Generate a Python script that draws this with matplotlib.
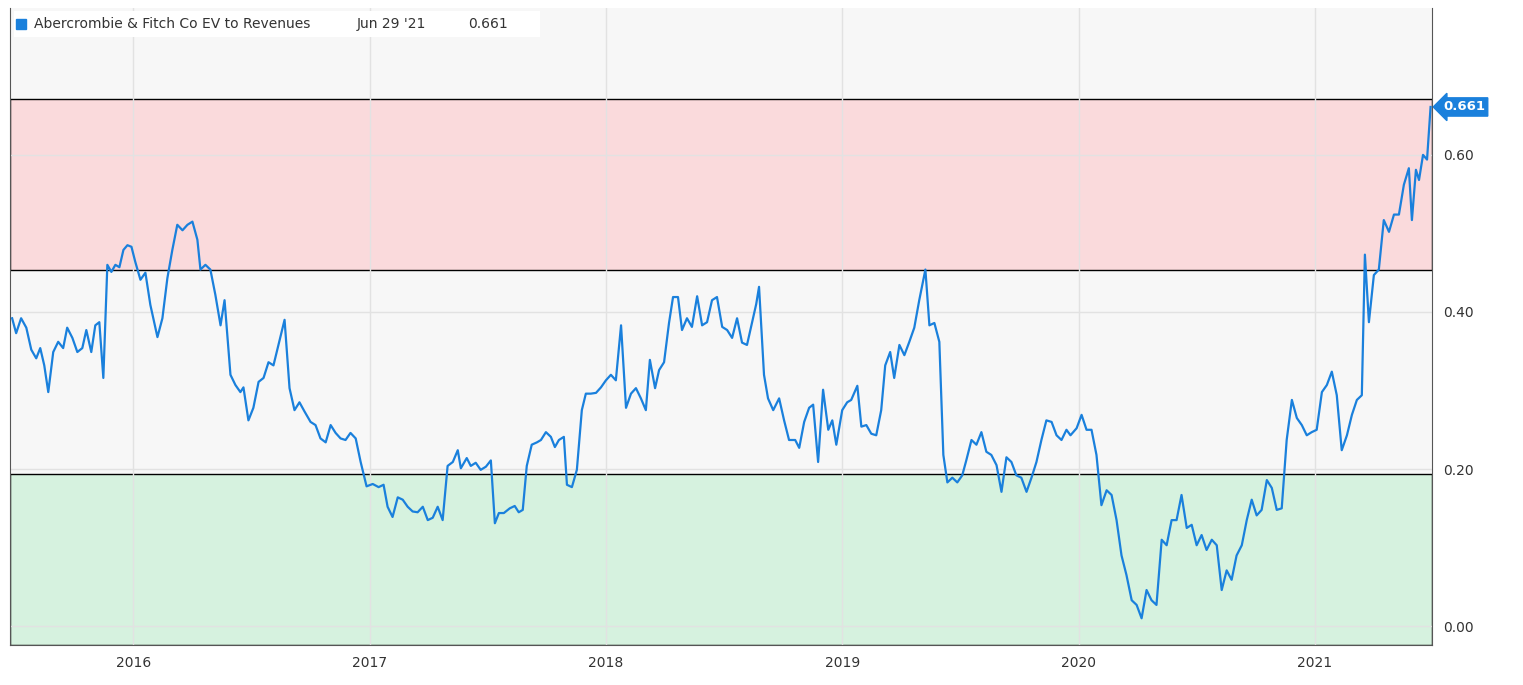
import matplotlib.pyplot as plt
from matplotlib.patches import Rectangle

YEARS = [
    2015.487, 2015.504, 2015.525, 2015.547, 2015.568, 2015.589, 2015.606, 2015.623, 2015.640, 2015.661,
    2015.682, 2015.703, 2015.720, 2015.742, 2015.763, 2015.784, 2015.801, 2015.822, 2015.839, 2015.856,
    2015.873, 2015.890, 2015.907, 2015.924, 2015.941, 2015.958, 2015.975, 2015.992, 2016.008, 2016.030,
    2016.051, 2016.072, 2016.102, 2016.123, 2016.144, 2016.165, 2016.186, 2016.208, 2016.229, 2016.250,
    2016.271, 2016.284, 2016.305, 2016.326, 2016.347, 2016.369, 2016.386, 2016.411, 2016.432, 2016.453,
    2016.466, 2016.487, 2016.508, 2016.530, 2016.551, 2016.572, 2016.593, 2016.614, 2016.640, 2016.661,
    2016.682, 2016.703, 2016.725, 2016.750, 2016.771, 2016.792, 2016.814, 2016.835, 2016.856, 2016.877,
    2016.898, 2016.919, 2016.941, 2016.962, 2016.987, 2017.013, 2017.038, 2017.059, 2017.076, 2017.097,
    2017.119, 2017.140, 2017.161, 2017.182, 2017.203, 2017.225, 2017.246, 2017.267, 2017.288, 2017.309,
    2017.330, 2017.352, 2017.373, 2017.386, 2017.411, 2017.428, 2017.449, 2017.470, 2017.492, 2017.513,
    2017.530, 2017.547, 2017.568, 2017.593, 2017.614, 2017.631, 2017.648, 2017.665, 2017.686, 2017.708,
    2017.725, 2017.746, 2017.767, 2017.784, 2017.801, 2017.822, 2017.835, 2017.856, 2017.877, 2017.898,
    2017.915, 2017.936, 2017.958, 2017.979, 2018.000, 2018.021, 2018.042, 2018.064, 2018.085, 2018.106,
    2018.127, 2018.148, 2018.169, 2018.186, 2018.208, 2018.225, 2018.246, 2018.267, 2018.284, 2018.305,
    2018.322, 2018.343, 2018.364, 2018.386, 2018.407, 2018.428, 2018.449, 2018.470, 2018.492, 2018.513,
    2018.534, 2018.555, 2018.576, 2018.597, 2018.619, 2018.636, 2018.648, 2018.669, 2018.686, 2018.708,
    2018.733, 2018.754, 2018.775, 2018.801, 2018.818, 2018.839, 2018.860, 2018.877, 2018.898, 2018.919,
    2018.941, 2018.958, 2018.975, 2019.000, 2019.021, 2019.038, 2019.064, 2019.081, 2019.102, 2019.123,
    2019.144, 2019.165, 2019.182, 2019.203, 2019.220, 2019.242, 2019.263, 2019.284, 2019.305, 2019.326,
    2019.352, 2019.369, 2019.390, 2019.411, 2019.428, 2019.445, 2019.466, 2019.487, 2019.508, 2019.525,
    2019.547, 2019.568, 2019.589, 2019.610, 2019.631, 2019.653, 2019.674, 2019.695, 2019.716, 2019.737,
    2019.758, 2019.780, 2019.801, 2019.822, 2019.843, 2019.864, 2019.886, 2019.907, 2019.928, 2019.949,
    2019.966, 2019.992, 2020.013, 2020.034, 2020.055, 2020.076, 2020.097, 2020.119, 2020.140, 2020.161,
    2020.182, 2020.203, 2020.225, 2020.246, 2020.267, 2020.288, 2020.309, 2020.330, 2020.352, 2020.373,
    2020.394, 2020.415, 2020.436, 2020.458, 2020.479, 2020.500, 2020.521, 2020.542, 2020.564, 2020.585,
    2020.606, 2020.627, 2020.648, 2020.669, 2020.691, 2020.712, 2020.733, 2020.754, 2020.775, 2020.797,
    2020.818, 2020.839, 2020.860, 2020.881, 2020.903, 2020.924, 2020.945, 2020.966, 2020.987, 2021.008,
    2021.030, 2021.051, 2021.072, 2021.093, 2021.114, 2021.136, 2021.157, 2021.178, 2021.199, 2021.212,
    2021.229, 2021.250, 2021.271, 2021.292, 2021.314, 2021.335, 2021.356, 2021.377, 2021.398, 2021.411,
    2021.428, 2021.441, 2021.458, 2021.475, 2021.490,
]
EV_REV = [
    0.392, 0.373, 0.392, 0.380, 0.352, 0.341, 0.354, 0.332, 0.298, 0.349,
    0.362, 0.354, 0.380, 0.367, 0.349, 0.354, 0.377, 0.349, 0.383, 0.387,
    0.316, 0.460, 0.451, 0.460, 0.457, 0.479, 0.485, 0.483, 0.464, 0.441,
    0.450, 0.409, 0.368, 0.392, 0.443, 0.479, 0.511, 0.504, 0.511, 0.515,
    0.492, 0.454, 0.460, 0.454, 0.422, 0.383, 0.415, 0.320, 0.307, 0.298,
    0.304, 0.262, 0.278, 0.311, 0.316, 0.336, 0.332, 0.358, 0.390, 0.303,
    0.275, 0.285, 0.273, 0.260, 0.256, 0.239, 0.234, 0.256, 0.246, 0.239,
    0.237, 0.246, 0.239, 0.209, 0.178, 0.181, 0.177, 0.180, 0.152, 0.139,
    0.164, 0.161, 0.152, 0.146, 0.145, 0.152, 0.135, 0.138, 0.152, 0.135,
    0.204, 0.209, 0.224, 0.201, 0.214, 0.204, 0.208, 0.199, 0.203, 0.211,
    0.131, 0.144, 0.144, 0.150, 0.153, 0.145, 0.148, 0.204, 0.231, 0.234,
    0.237, 0.247, 0.241, 0.228, 0.237, 0.241, 0.180, 0.177, 0.199, 0.275,
    0.296, 0.296, 0.297, 0.304, 0.313, 0.320, 0.313, 0.383, 0.278, 0.296,
    0.303, 0.290, 0.275, 0.339, 0.303, 0.326, 0.336, 0.386, 0.419, 0.419,
    0.377, 0.392, 0.381, 0.420, 0.383, 0.387, 0.415, 0.419, 0.381, 0.377,
    0.367, 0.392, 0.361, 0.358, 0.387, 0.410, 0.432, 0.320, 0.290, 0.275,
    0.290, 0.262, 0.237, 0.237, 0.227, 0.260, 0.278, 0.282, 0.209, 0.301,
    0.250, 0.262, 0.231, 0.275, 0.285, 0.288, 0.306, 0.254, 0.256, 0.245,
    0.243, 0.275, 0.332, 0.349, 0.316, 0.358, 0.345, 0.362, 0.380, 0.415,
    0.454, 0.383, 0.386, 0.362, 0.218, 0.183, 0.189, 0.183, 0.192, 0.211,
    0.237, 0.231, 0.247, 0.222, 0.218, 0.205, 0.171, 0.215, 0.209, 0.192,
    0.189, 0.171, 0.189, 0.209, 0.237, 0.262, 0.260, 0.243, 0.237, 0.250,
    0.243, 0.252, 0.269, 0.250, 0.250, 0.218, 0.154, 0.173, 0.167, 0.135,
    0.090, 0.065, 0.033, 0.027, 0.010, 0.046, 0.033, 0.027, 0.110, 0.103,
    0.135, 0.135, 0.167, 0.125, 0.129, 0.103, 0.116, 0.097, 0.110, 0.103,
    0.046, 0.071, 0.059, 0.090, 0.103, 0.135, 0.161, 0.141, 0.148, 0.186,
    0.176, 0.148, 0.150, 0.237, 0.288, 0.265, 0.256, 0.243, 0.247, 0.250,
    0.298, 0.307, 0.324, 0.294, 0.224, 0.243, 0.269, 0.288, 0.294, 0.473,
    0.387, 0.447, 0.454, 0.517, 0.502, 0.524, 0.524, 0.562, 0.583, 0.517,
    0.581, 0.568, 0.600, 0.594, 0.661,
]
YEAR_TICKS = [2016, 2017, 2018, 2019, 2020, 2021]
Y_TICKS = [0.0, 0.2, 0.4, 0.6]
HIGH_BAND = (0.4535, 0.671)
LOW_BAND = (-0.024, 0.194)
LAST_LABEL = "Jun 29 '21"

LINE = "#1a80dc"

fig = plt.figure(figsize=(15.23, 6.85), dpi=100)
ax = fig.add_axes([10 / 1523, 40 / 685, 1422 / 1523, 637 / 685])
ax.set_facecolor("#f7f7f7")
ax.set_xlim(2015.478, 2021.496)
ax.set_ylim(-0.024, 0.787)

ax.axhspan(*HIGH_BAND, facecolor="#fadadc", edgecolor="black", linewidth=1, zorder=1)
ax.axhspan(*LOW_BAND, facecolor="#d6f2df", edgecolor="black", linewidth=1, zorder=1)

ax.plot(YEARS, EV_REV, color=LINE, linewidth=1.6, zorder=3)

ax.set_xticks(YEAR_TICKS, [str(y) for y in YEAR_TICKS])
ax.set_yticks(Y_TICKS, [f"{v:.2f}" for v in Y_TICKS])
ax.yaxis.tick_right()
ax.tick_params(length=0, labelsize=10, colors="#333333", pad=8)
ax.grid(color="#e2e2e2", linewidth=1, zorder=0)
for s in ax.spines.values():
    s.set_color("#555555")
    s.set_linewidth(0.8)
ax.spines["top"].set_visible(False)

last = EV_REV[-1]
ax.annotate(f"{last:.3f}", xy=(1.0, last), xycoords=("axes fraction", "data"),
            xytext=(8, 0), textcoords="offset points", va="center", ha="left",
            color="white", fontsize=9.5, weight="bold",
            bbox=dict(boxstyle="larrow,pad=0.2", fc=LINE, ec=LINE))

ax.add_patch(Rectangle((0.003, 0.955), 0.37, 0.04, transform=ax.transAxes,
                       facecolor="white", edgecolor="none", zorder=4))
ax.plot([0.008], [0.975], marker="s", color=LINE, markersize=7,
        transform=ax.transAxes, zorder=5)
ax.text(0.017, 0.975, "Abercrombie & Fitch Co EV to Revenues", transform=ax.transAxes,
        va="center", fontsize=10, color="#333333", zorder=5)
ax.text(0.244, 0.975, LAST_LABEL, transform=ax.transAxes, va="center", fontsize=10,
        color="#333333", zorder=5)
ax.text(0.322, 0.975, f"{last:.3f}", transform=ax.transAxes, va="center", fontsize=10,
        color="#333333", zorder=5)

fig.savefig("out.png", dpi=100)
